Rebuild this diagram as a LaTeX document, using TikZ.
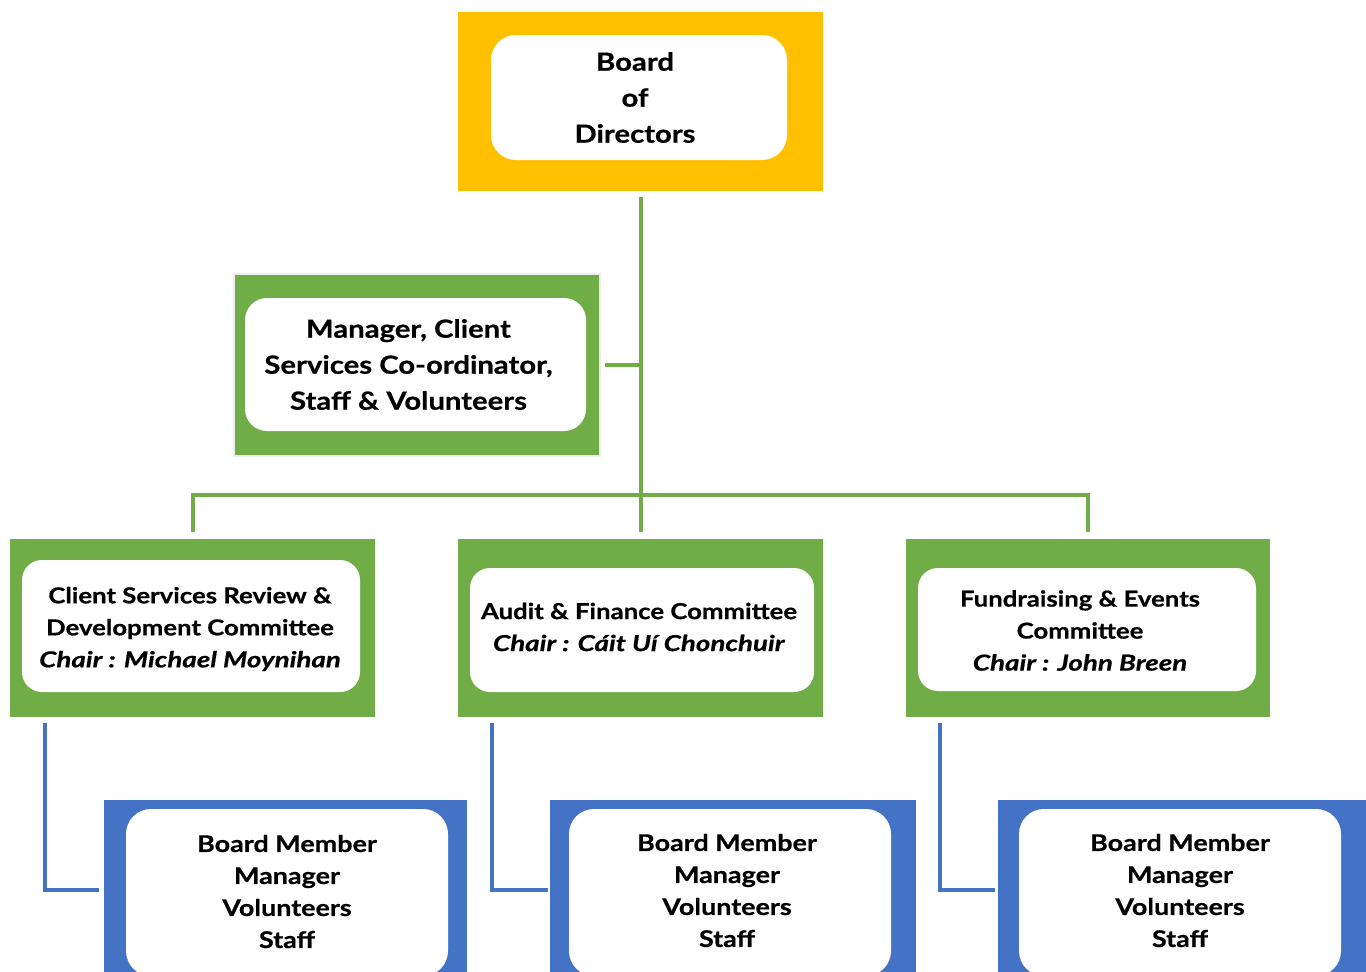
\documentclass[tikz,border=0pt]{standalone}
\usepackage{fontspec}
\setmainfont{Lato}[BoldFeatures={FakeStretch=1.17,FakeBold=0.6},BoldItalicFeatures={FakeStretch=1.26,FakeBold=0.6}]
\definecolor{gold}{HTML}{FFC000}
\definecolor{lgreen}{HTML}{70AD47}
\definecolor{lblue}{HTML}{4472C4}
\begin{document}
\begin{tikzpicture}[x=1pt,y=-1pt]
\tikzset{
 frame/.style={fill=#1, inner sep=0pt, outer sep=0pt},
 panel/.style={fill=white, inner sep=0pt, outer sep=0pt},
 words/.style={align=center, text=black, inner sep=0pt},
 big/.style={font=\bfseries\fontsize{25}{36}\selectfont},
 mid/.style={font=\bfseries\fontsize{22}{32}\selectfont},
 low/.style={font=\bfseries\fontsize{23}{32}\selectfont},
 glink/.style={draw=lgreen, line width=4pt},
 blink/.style={draw=lblue, line width=4pt},
}
\useasboundingbox (0,0) rectangle (1366,972);
\clip (0,0) rectangle (1366,972);
\fill[white] (0,0) rectangle (1366,972);

% top
\node[frame=gold, minimum width=365pt, minimum height=179pt] (bod) at (640.5,101.5) {};
\node[panel, rounded corners=25pt, minimum width=296pt, minimum height=125pt] (bodp) at (639,97.5) {};
\node[words, big] (bodt) at ([xshift=-4pt]bodp.center) {Board\\of\\Directors};

% manager
\node[frame=lgreen, draw=black!7, line width=2pt, minimum width=366pt, minimum height=182pt] (mgr) at (417,365) {};
\node[panel, rounded corners=22pt, minimum width=341pt, minimum height=133pt] (mgrp) at (415.5,364.5) {};
\node[words, big] (mgrt) at ([xshift=-7pt]mgrp.center) {Manager, Client\\Services Co-ordinator,\\Staff \& Volunteers};

% committees
\node[frame=lgreen, minimum width=365pt, minimum height=178pt] (g1) at (192.5,628) {};
\node[panel, rounded corners=20pt, minimum width=338pt, minimum height=132pt] (g1p) at (191,626) {};
\node[words, mid] (g1t) at ([shift={(-1pt,-3pt)}]g1p.center) {Client Services Review \&\\Development Committee\\\textit{Chair : Michael Moynihan}};
\node[frame=lgreen, minimum width=365pt, minimum height=178pt] (g2) at (640.5,628) {};
\node[panel, rounded corners=20pt, minimum width=344pt, minimum height=124pt] (g2p) at (642,630) {};
\node[words, mid] (g2t) at ([shift={(-3pt,3pt)}]g2p.center) {Audit \& Finance Committee\\\textit{Chair : Cáit Uí Chonchuir}};
\node[frame=lgreen, minimum width=364pt, minimum height=178pt] (g3) at (1088,628) {};
\node[panel, rounded corners=20pt, minimum width=338pt, minimum height=123pt] (g3p) at (1087,629.5) {};
\node[words, mid] (g3t) at ([shift={(-7pt,-1pt)}]g3p.center) {Fundraising \& Events\\Committee\\\textit{Chair : John Breen}};

% blue boxes
\node[frame=lblue, minimum width=363pt, minimum height=195pt] (b1) at (285.5,897.5) {};
\node[panel, rounded corners=25pt, minimum width=322pt, minimum height=167pt] (b1p) at (287,892.5) {};
\node[words, low] (b1t) at ([yshift=1pt]b1p.center) {Board Member\\Manager\\Volunteers\\Staff};
\node[frame=lblue, minimum width=366pt, minimum height=195pt] (b2) at (733,897.5) {};
\node[panel, rounded corners=25pt, minimum width=322pt, minimum height=167pt] (b2p) at (730,892.5) {};
\node[words, low] (b2t) at ([shift={(-3pt,2pt)}]b2p.center) {Board Member\\Manager\\Volunteers\\Staff};
\node[frame=lblue, minimum width=372pt, minimum height=195pt] (b3) at (1184,897.5) {};
\node[panel, rounded corners=25pt, minimum width=322pt, minimum height=167pt] (b3p) at (1180,892.5) {};
\node[words, low] (b3t) at ([yshift=2pt]b3p.center) {Board Member\\Manager\\Volunteers\\Staff};

% green connectors
\coordinate (trunkend) at ([yshift=7pt]g2.north);
\draw[glink] ([yshift=-6pt]bod.south) -- (trunkend);
\draw[glink] ([xshift=5pt]mgr.east) -- (mgr.east -| bod.south);
\draw[glink] ([yshift=7pt]g1.north) -- (g1.north |- 0,495) -- (g3.north |- 0,495) -- ([yshift=7pt]g3.north);

% blue connectors
\draw[blink] ([shift={(35pt,-6pt)}]g1.south west) |- ([xshift=-5pt]b1.west |- 0,890);
\draw[blink] ([shift={(34pt,-6pt)}]g2.south west) |- ([xshift=-2pt]b2.west |- 0,890);
\draw[blink] ([shift={(34pt,-6pt)}]g3.south west) |- ([xshift=-3pt]b3.west |- 0,890);
\end{tikzpicture}
\end{document}
